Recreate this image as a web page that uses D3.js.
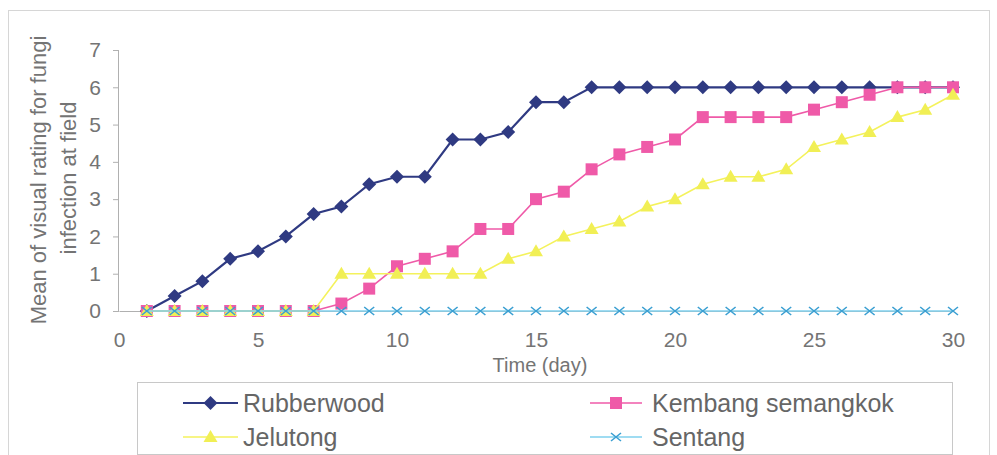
<!DOCTYPE html>
<html>
<head>
<meta charset="utf-8">
<script src="https://cdn.jsdelivr.net/npm/d3@7"></script>
<style>
  html, body { margin: 0; padding: 0; background: #fff; }
  svg { display: block; }
  text { font-family: "Liberation Sans", Arial, sans-serif; }
</style>
</head>
<body>
<div id="chart"></div>
<script>
// Days of observation
const days = d3.range(1, 31);

// Mean visual rating of fungal infection per wood species (days 1..30)
const rubberwood = [0, 0.4, 0.8, 1.4, 1.6, 2.0, 2.6, 2.8, 3.4, 3.6,
                    3.6, 4.6, 4.6, 4.8, 5.6, 5.6, 6, 6, 6, 6,
                    6, 6, 6, 6, 6, 6, 6, 6, 6, 6];
const kembang    = [0, 0, 0, 0, 0, 0, 0, 0.2, 0.6, 1.2,
                    1.4, 1.6, 2.2, 2.2, 3.0, 3.2, 3.8, 4.2, 4.4, 4.6,
                    5.2, 5.2, 5.2, 5.2, 5.4, 5.6, 5.8, 6, 6, 6];
const jelutong   = [0, 0, 0, 0, 0, 0, 0, 1, 1, 1,
                    1, 1, 1, 1.4, 1.6, 2.0, 2.2, 2.4, 2.8, 3.0,
                    3.4, 3.6, 3.6, 3.8, 4.4, 4.6, 4.8, 5.2, 5.4, 5.8];
const sentang    = [0, 0, 0, 0, 0, 0, 0, 0, 0, 0,
                    0, 0, 0, 0, 0, 0, 0, 0, 0, 0,
                    0, 0, 0, 0, 0, 0, 0, 0, 0, 0];

const seriesNames = ["Rubberwood", "Kembang semangkok", "Jelutong", "Sentang"];
const xTicks = [0, 5, 10, 15, 20, 25, 30];
const yTicks = [0, 1, 2, 3, 4, 5, 6, 7];

const W = 997, H = 455;
const svg = d3.select("#chart").append("svg").attr("width", W).attr("height", H);

// outer chart frame
svg.append("rect").attr("x", 8.5).attr("y", 10.5).attr("width", 981).attr("height", 470)
  .attr("fill", "none").attr("stroke", "#d6d6d6").attr("stroke-width", 1);

const x = d3.scaleLinear().domain([0, 30]).range([119, 953]);
const y = d3.scaleLinear().domain([0, 7]).range([311, 50]);

const textColor = "#747474";

// y axis
const yAxis = svg.append("g").attr("transform", `translate(${x(0)},0)`)
  .call(d3.axisLeft(y).tickValues(yTicks).tickSize(6).tickPadding(12).tickFormat(d3.format("d")));
yAxis.select(".domain").attr("stroke", "#b0b0b0").attr("d", `M-0.5,${y(7)}V${y(0)}`);
yAxis.selectAll(".tick line").attr("stroke", "#b0b0b0");
yAxis.selectAll(".tick text").attr("fill", textColor).style("font-size", "21px")
  .style("font-family", '"Liberation Sans", Arial, sans-serif');

// x axis (labels only, axis line sits on zero)
const xAxis = svg.append("g").attr("transform", `translate(0,${y(0)})`)
  .call(d3.axisBottom(x).tickValues(xTicks).tickSize(0).tickPadding(21).tickFormat(d3.format("d")));
xAxis.select(".domain").attr("stroke", "#b0b0b0");
xAxis.selectAll(".tick text").attr("fill", textColor).style("font-size", "21px")
  .style("font-family", '"Liberation Sans", Arial, sans-serif');

// axis titles
svg.append("text").attr("x", (x(0) + x(30)) / 2 + 4).attr("y", 372)
  .attr("text-anchor", "middle").attr("fill", textColor).style("font-size", "20px")
  .text("Time (day)");

const yTitle = svg.append("text")
  .attr("text-anchor", "middle").attr("fill", textColor).style("font-size", "22px")
  .attr("transform", "rotate(-90)");
yTitle.append("tspan").attr("x", -180).attr("y", 46).text("Mean of visual rating for fungi");
yTitle.append("tspan").attr("x", -178).attr("y", 76).text("infection at field");

// marker shapes
function drawMarker(g, kind, cx, cy, color) {
  if (kind === "diamond") {
    g.append("path").attr("d", "M0,-7L7,0L0,7L-7,0Z")
      .attr("transform", `translate(${cx},${cy})`).attr("fill", color);
  } else if (kind === "square") {
    g.append("rect").attr("x", cx - 6).attr("y", cy - 6).attr("width", 12).attr("height", 12)
      .attr("fill", color);
  } else if (kind === "triangle") {
    g.append("path").attr("d", "M0,-7L7,5L-7,5Z")
      .attr("transform", `translate(${cx},${cy})`).attr("fill", color);
  } else if (kind === "cross") {
    g.append("path").attr("d", "M-5,-4L5,4M-5,4L5,-4")
      .attr("transform", `translate(${cx},${cy})`).attr("stroke", color)
      .attr("stroke-width", 1.6).attr("fill", "none");
  }
}

const series = [
  { name: seriesNames[0], values: rubberwood, line: "#2f3a82", marker: "#2f3a82", kind: "diamond", width: 2.2 },
  { name: seriesNames[1], values: kembang,    line: "#ef5aa8", marker: "#ef5aa8", kind: "square",  width: 1.6 },
  { name: seriesNames[2], values: jelutong,   line: "#f4f25c", marker: "#f1ef55", kind: "triangle", width: 1.6 },
  { name: seriesNames[3], values: sentang,    line: "#7fd0ee", marker: "#3a9fd2", kind: "cross",   width: 1.6 }
];

const lineGen = d3.line().x(d => x(d[0])).y(d => y(d[1]));

series.forEach(s => {
  const pts = days.map((d, i) => [d, s.values[i]]);
  const g = svg.append("g");
  g.append("path").datum(pts).attr("d", lineGen).attr("fill", "none")
    .attr("stroke", s.line).attr("stroke-width", s.width);
  pts.forEach(p => drawMarker(g, s.kind, x(p[0]), y(p[1]), s.marker));
});

// legend
const lg = svg.append("g");
lg.append("rect").attr("x", 137.5).attr("y", 382.5).attr("width", 815).attr("height", 72)
  .attr("fill", "#fff").attr("stroke", "#c8c8c8").attr("stroke-width", 1);

const legendPos = [
  { sx: 183, ex: 238, tx: 243, ty: 412 },
  { sx: 590, ex: 642, tx: 652, ty: 412 },
  { sx: 183, ex: 238, tx: 243, ty: 446 },
  { sx: 590, ex: 642, tx: 652, ty: 446 }
];
series.forEach((s, i) => {
  const p = legendPos[i];
  const cy = p.ty - 9;
  lg.append("line").attr("x1", p.sx).attr("x2", p.ex).attr("y1", cy).attr("y2", cy)
    .attr("stroke", s.line).attr("stroke-width", s.width);
  drawMarker(lg, s.kind, (p.sx + p.ex) / 2, cy, s.marker);
  lg.append("text").attr("x", p.tx).attr("y", p.ty).attr("fill", "#666")
    .style("font-size", "25px").text(s.name);
});
</script>
</body>
</html>
